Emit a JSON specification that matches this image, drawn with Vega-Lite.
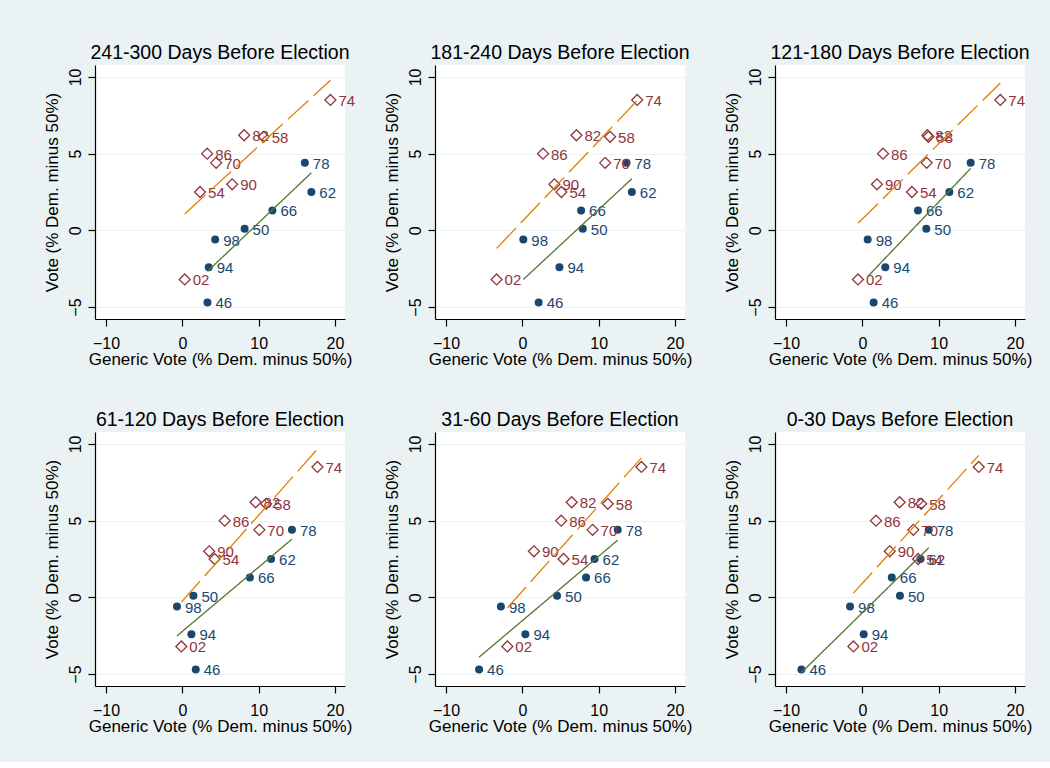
{
  "$schema": "https://vega.github.io/schema/vega-lite/v6.json",
  "background": "#eaf2f3",
  "padding": {"left": 43, "top": 42, "right": 18, "bottom": 28},
  "data": {"values": [
    {"panel": "241-300 Days Before Election", "label": "46", "president": "Democratic", "x": 3.29, "y": -4.7},
    {"panel": "241-300 Days Before Election", "label": "50", "president": "Democratic", "x": 8.16, "y": 0.1},
    {"panel": "241-300 Days Before Election", "label": "62", "president": "Democratic", "x": 16.9, "y": 2.5},
    {"panel": "241-300 Days Before Election", "label": "66", "president": "Democratic", "x": 11.8, "y": 1.3},
    {"panel": "241-300 Days Before Election", "label": "78", "president": "Democratic", "x": 16.05, "y": 4.4},
    {"panel": "241-300 Days Before Election", "label": "94", "president": "Democratic", "x": 3.46, "y": -2.4},
    {"panel": "241-300 Days Before Election", "label": "98", "president": "Democratic", "x": 4.3, "y": -0.6},
    {"panel": "241-300 Days Before Election", "label": "54", "president": "Republican", "x": 2.32, "y": 2.5},
    {"panel": "241-300 Days Before Election", "label": "58", "president": "Republican", "x": 10.66, "y": 6.1},
    {"panel": "241-300 Days Before Election", "label": "70", "president": "Republican", "x": 4.43, "y": 4.4},
    {"panel": "241-300 Days Before Election", "label": "74", "president": "Republican", "x": 19.4, "y": 8.5},
    {"panel": "241-300 Days Before Election", "label": "82", "president": "Republican", "x": 8.1, "y": 6.2},
    {"panel": "241-300 Days Before Election", "label": "86", "president": "Republican", "x": 3.25, "y": 5.0},
    {"panel": "241-300 Days Before Election", "label": "90", "president": "Republican", "x": 6.53, "y": 3.0},
    {"panel": "241-300 Days Before Election", "label": "02", "president": "Republican", "x": 0.31, "y": -3.2},

    {"panel": "181-240 Days Before Election", "label": "46", "president": "Democratic", "x": 2.14, "y": -4.7},
    {"panel": "181-240 Days Before Election", "label": "50", "president": "Democratic", "x": 7.92, "y": 0.1},
    {"panel": "181-240 Days Before Election", "label": "62", "president": "Democratic", "x": 14.35, "y": 2.5},
    {"panel": "181-240 Days Before Election", "label": "66", "president": "Democratic", "x": 7.7, "y": 1.3},
    {"panel": "181-240 Days Before Election", "label": "78", "president": "Democratic", "x": 13.65, "y": 4.4},
    {"panel": "181-240 Days Before Election", "label": "94", "president": "Democratic", "x": 4.86, "y": -2.4},
    {"panel": "181-240 Days Before Election", "label": "98", "president": "Democratic", "x": 0.13, "y": -0.6},
    {"panel": "181-240 Days Before Election", "label": "54", "president": "Republican", "x": 5.12, "y": 2.5},
    {"panel": "181-240 Days Before Election", "label": "58", "president": "Republican", "x": 11.5, "y": 6.1},
    {"panel": "181-240 Days Before Election", "label": "70", "president": "Republican", "x": 10.85, "y": 4.4},
    {"panel": "181-240 Days Before Election", "label": "74", "president": "Republican", "x": 15.05, "y": 8.5},
    {"panel": "181-240 Days Before Election", "label": "82", "president": "Republican", "x": 7.09, "y": 6.2},
    {"panel": "181-240 Days Before Election", "label": "86", "president": "Republican", "x": 2.71, "y": 5.0},
    {"panel": "181-240 Days Before Election", "label": "90", "president": "Republican", "x": 4.2, "y": 3.0},
    {"panel": "181-240 Days Before Election", "label": "02", "president": "Republican", "x": -3.37, "y": -3.2},

    {"panel": "121-180 Days Before Election", "label": "46", "president": "Democratic", "x": 1.48, "y": -4.7},
    {"panel": "121-180 Days Before Election", "label": "50", "president": "Democratic", "x": 8.38, "y": 0.1},
    {"panel": "121-180 Days Before Election", "label": "62", "president": "Democratic", "x": 11.4, "y": 2.5},
    {"panel": "121-180 Days Before Election", "label": "66", "president": "Democratic", "x": 7.29, "y": 1.3},
    {"panel": "121-180 Days Before Election", "label": "78", "president": "Democratic", "x": 14.19, "y": 4.4},
    {"panel": "121-180 Days Before Election", "label": "94", "president": "Democratic", "x": 3.01, "y": -2.4},
    {"panel": "121-180 Days Before Election", "label": "98", "president": "Democratic", "x": 0.7, "y": -0.6},
    {"panel": "121-180 Days Before Election", "label": "54", "president": "Republican", "x": 6.5, "y": 2.5},
    {"panel": "121-180 Days Before Election", "label": "58", "president": "Republican", "x": 8.65, "y": 6.1},
    {"panel": "121-180 Days Before Election", "label": "70", "president": "Republican", "x": 8.43, "y": 4.4},
    {"panel": "121-180 Days Before Election", "label": "74", "president": "Republican", "x": 18.08, "y": 8.5},
    {"panel": "121-180 Days Before Election", "label": "82", "president": "Republican", "x": 8.52, "y": 6.2},
    {"panel": "121-180 Days Before Election", "label": "86", "president": "Republican", "x": 2.71, "y": 5.0},
    {"panel": "121-180 Days Before Election", "label": "90", "president": "Republican", "x": 1.92, "y": 3.0},
    {"panel": "121-180 Days Before Election", "label": "02", "president": "Republican", "x": -0.57, "y": -3.2},

    {"panel": "61-120 Days Before Election", "label": "46", "president": "Democratic", "x": 1.76, "y": -4.7},
    {"panel": "61-120 Days Before Election", "label": "50", "president": "Democratic", "x": 1.45, "y": 0.1},
    {"panel": "61-120 Days Before Election", "label": "62", "president": "Democratic", "x": 11.63, "y": 2.5},
    {"panel": "61-120 Days Before Election", "label": "66", "president": "Democratic", "x": 8.85, "y": 1.3},
    {"panel": "61-120 Days Before Election", "label": "78", "president": "Democratic", "x": 14.36, "y": 4.4},
    {"panel": "61-120 Days Before Election", "label": "94", "president": "Democratic", "x": 1.19, "y": -2.4},
    {"panel": "61-120 Days Before Election", "label": "98", "president": "Democratic", "x": -0.7, "y": -0.6},
    {"panel": "61-120 Days Before Election", "label": "54", "president": "Republican", "x": 4.23, "y": 2.5},
    {"panel": "61-120 Days Before Election", "label": "58", "president": "Republican", "x": 10.97, "y": 6.1},
    {"panel": "61-120 Days Before Election", "label": "70", "president": "Republican", "x": 10.09, "y": 4.4},
    {"panel": "61-120 Days Before Election", "label": "74", "president": "Republican", "x": 17.7, "y": 8.5},
    {"panel": "61-120 Days Before Election", "label": "82", "president": "Republican", "x": 9.6, "y": 6.2},
    {"panel": "61-120 Days Before Election", "label": "86", "president": "Republican", "x": 5.55, "y": 5.0},
    {"panel": "61-120 Days Before Election", "label": "90", "president": "Republican", "x": 3.52, "y": 3.0},
    {"panel": "61-120 Days Before Election", "label": "02", "president": "Republican", "x": -0.13, "y": -3.2},

    {"panel": "31-60 Days Before Election", "label": "46", "president": "Democratic", "x": -5.67, "y": -4.7},
    {"panel": "31-60 Days Before Election", "label": "50", "president": "Democratic", "x": 4.55, "y": 0.1},
    {"panel": "31-60 Days Before Election", "label": "62", "president": "Democratic", "x": 9.46, "y": 2.5},
    {"panel": "31-60 Days Before Election", "label": "66", "president": "Democratic", "x": 8.35, "y": 1.3},
    {"panel": "31-60 Days Before Election", "label": "78", "president": "Democratic", "x": 12.5, "y": 4.4},
    {"panel": "31-60 Days Before Election", "label": "94", "president": "Democratic", "x": 0.4, "y": -2.4},
    {"panel": "31-60 Days Before Election", "label": "98", "president": "Democratic", "x": -2.81, "y": -0.6},
    {"panel": "31-60 Days Before Election", "label": "54", "president": "Republican", "x": 5.4, "y": 2.5},
    {"panel": "31-60 Days Before Election", "label": "58", "president": "Republican", "x": 11.2, "y": 6.1},
    {"panel": "31-60 Days Before Election", "label": "70", "president": "Republican", "x": 9.2, "y": 4.4},
    {"panel": "31-60 Days Before Election", "label": "74", "president": "Republican", "x": 15.6, "y": 8.5},
    {"panel": "31-60 Days Before Election", "label": "82", "president": "Republican", "x": 6.47, "y": 6.2},
    {"panel": "31-60 Days Before Election", "label": "86", "president": "Republican", "x": 5.09, "y": 5.0},
    {"panel": "31-60 Days Before Election", "label": "90", "president": "Republican", "x": 1.52, "y": 3.0},
    {"panel": "31-60 Days Before Election", "label": "02", "president": "Republican", "x": -1.96, "y": -3.2},

    {"panel": "0-30 Days Before Election", "label": "46", "president": "Democratic", "x": -7.98, "y": -4.7},
    {"panel": "0-30 Days Before Election", "label": "50", "president": "Democratic", "x": 4.93, "y": 0.1},
    {"panel": "0-30 Days Before Election", "label": "62", "president": "Democratic", "x": 7.62, "y": 2.5},
    {"panel": "0-30 Days Before Election", "label": "66", "president": "Democratic", "x": 3.86, "y": 1.3},
    {"panel": "0-30 Days Before Election", "label": "78", "president": "Democratic", "x": 8.7, "y": 4.4},
    {"panel": "0-30 Days Before Election", "label": "94", "president": "Democratic", "x": 0.18, "y": -2.4},
    {"panel": "0-30 Days Before Election", "label": "98", "president": "Democratic", "x": -1.61, "y": -0.6},
    {"panel": "0-30 Days Before Election", "label": "54", "president": "Republican", "x": 7.31, "y": 2.5},
    {"panel": "0-30 Days Before Election", "label": "58", "president": "Republican", "x": 7.71, "y": 6.1},
    {"panel": "0-30 Days Before Election", "label": "70", "president": "Republican", "x": 6.68, "y": 4.4},
    {"panel": "0-30 Days Before Election", "label": "74", "president": "Republican", "x": 15.25, "y": 8.5},
    {"panel": "0-30 Days Before Election", "label": "82", "president": "Republican", "x": 4.89, "y": 6.2},
    {"panel": "0-30 Days Before Election", "label": "86", "president": "Republican", "x": 1.79, "y": 5.0},
    {"panel": "0-30 Days Before Election", "label": "90", "president": "Republican", "x": 3.59, "y": 3.0},
    {"panel": "0-30 Days Before Election", "label": "02", "president": "Republican", "x": -1.17, "y": -3.2}
  ]},
  "facet": {
    "field": "panel",
    "type": "nominal",
    "sort": ["241-300 Days Before Election", "181-240 Days Before Election", "121-180 Days Before Election", "61-120 Days Before Election", "31-60 Days Before Election", "0-30 Days Before Election"],
    "header": {"title": null, "labelFontSize": 19.5, "labelFont": "Liberation Sans", "labelColor": "black", "labelPadding": 2}
  },
  "columns": 3,
  "spacing": {"row": 113, "column": 90},
  "bounds": "flush",
  "resolve": {"axis": {"x": "independent", "y": "independent"}},
  "spec": {
    "width": 250,
    "height": 254,
    "encoding": {
      "x": {"field": "x", "type": "quantitative",
            "scale": {"domain": [-11.44, 21.31], "nice": false, "zero": false},
            "axis": {"title": "Generic Vote (% Dem. minus 50%)", "values": [-10, 0, 10, 20], "grid": false, "labelPadding": 9, "titlePadding": 0}},
      "y": {"field": "y", "type": "quantitative",
            "scale": {"domain": [-5.78, 10.78], "nice": false, "zero": false},
            "axis": {"title": "Vote (% Dem. minus 50%)", "values": [-5, 0, 5, 10], "grid": true, "gridColor": "#eaf2f3", "gridWidth": 1.2, "labelAngle": -90, "labelAlign": "center", "labelBaseline": "bottom", "labelPadding": 4.5, "titlePadding": 6}}
    },
    "layer": [
      {"transform": [{"filter": "datum.president === 'Democratic'"}],
       "mark": {"type": "point", "shape": "circle", "filled": true, "opacity": 1, "color": "#1a476f", "size": 64}},
      {"transform": [{"filter": "datum.president === 'Republican'"}],
       "mark": {"type": "point", "shape": "diamond", "filled": false, "opacity": 1, "color": "#90353b", "size": 120, "strokeWidth": 1.3}},
      {"transform": [{"filter": "datum.president === 'Democratic'"}],
       "mark": {"type": "text", "align": "left", "baseline": "middle", "dx": 8, "dy": 1, "fontSize": 15, "font": "Liberation Sans", "color": "#1a476f"},
       "encoding": {"text": {"field": "label", "type": "nominal"}}},
      {"transform": [{"filter": "datum.president === 'Republican'"}],
       "mark": {"type": "text", "align": "left", "baseline": "middle", "dx": 8, "dy": 1, "fontSize": 15, "font": "Liberation Sans", "color": "#90353b"},
       "encoding": {"text": {"field": "label", "type": "nominal"}}},
      {"transform": [{"regression": "y", "on": "x", "groupby": ["panel", "president"]}],
       "mark": {"type": "line", "strokeWidth": 1.3},
       "encoding": {
         "color": {"field": "president", "type": "nominal", "scale": {"domain": ["Democratic", "Republican"], "range": ["#55752f", "#e37e00"]}, "legend": null},
         "strokeDash": {"field": "president", "type": "nominal", "scale": {"domain": ["Democratic", "Republican"], "range": [[1, 0], [28, 7]]}, "legend": null}
       }}
    ]
  },
  "config": {
    "view": {"stroke": null, "fill": "white"},
    "font": "Liberation Sans",
    "axis": {"domainColor": "black", "domainWidth": 1.2, "tickColor": "black", "tickSize": 7, "tickWidth": 1.2,
             "labelFontSize": 16, "labelColor": "black", "labelFont": "Liberation Sans",
             "titleFontSize": 17, "titleFontWeight": "normal", "titleColor": "black", "titleFont": "Liberation Sans"}
  }
}
